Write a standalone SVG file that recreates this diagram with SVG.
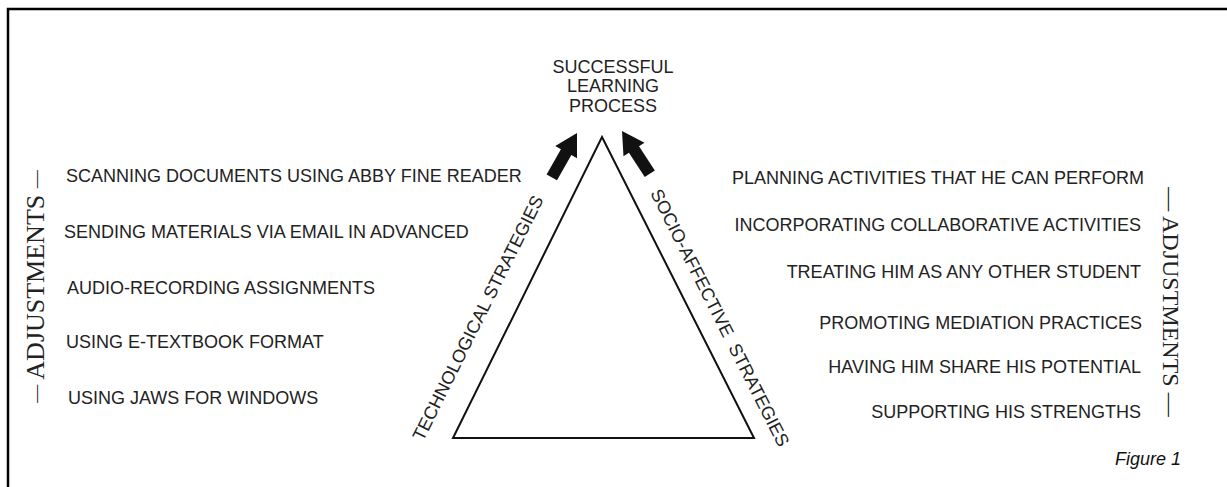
<svg xmlns="http://www.w3.org/2000/svg" width="1227" height="487" viewBox="0 0 1227 487">
<defs>
<style>
.t{font-family:"Liberation Sans",Arial,sans-serif;font-size:18px;fill:#222}
.s{font-family:"Liberation Serif","Times New Roman",serif;font-size:26px;fill:#222}
.e{text-anchor:end}
.m{text-anchor:middle}
.fig{font-family:"Liberation Sans",Arial,sans-serif;font-size:18px;font-style:italic;fill:#111;text-anchor:end}
.frame{stroke:#000;stroke-width:2.5;fill:none}
.tri{stroke:#111;stroke-width:2;fill:none;stroke-linejoin:miter}
.arr{fill:#111}
.d{font-size:18px}
</style>
<polygon id="arrow" points="0,0 12.5,22 6,22 6,51 -6,51 -6,22 -12.5,22"/>
</defs>
<rect width="1227" height="487" fill="#fff"/>
<path class="frame" d="M1227,9 H8 V487"/>
<g id="goal">
<text class="t m" x="613" y="72.5">SUCCESSFUL</text>
<text class="t m" x="613" y="92">LEARNING</text>
<text class="t m" x="613" y="112">PROCESS</text>
</g>
<g id="triangle">
<polygon class="tri" points="602,137 754,438 453,438"/>
<text class="t" transform="translate(423,442) rotate(-63.5)">TECHNOLOGICAL STRATEGIES</text>
<text class="t" style="white-space:pre" transform="translate(650,193) rotate(63.2)">SOCIO-AFFECTIVE  STRATEGIES</text>
</g>
<g id="connectors">
<use href="#arrow" class="arr" transform="translate(577,133) rotate(29.6)"/>
<use href="#arrow" class="arr" transform="translate(622,131) rotate(-33)"/>
</g>
<g id="left-adjustments">
<text class="s m" transform="translate(44,286.5) rotate(-90)"><tspan class="d" dy="-2">—</tspan><tspan dy="2"> ADJUSTMENTS </tspan><tspan class="d" dy="-2">—</tspan></text>
<text class="t" x="66" y="182">SCANNING DOCUMENTS USING ABBY FINE READER</text>
<text class="t" x="64" y="238">SENDING MATERIALS VIA EMAIL IN ADVANCED</text>
<text class="t" x="67" y="294">AUDIO-RECORDING ASSIGNMENTS</text>
<text class="t" x="66" y="348">USING E-TEXTBOOK FORMAT</text>
<text class="t" x="68" y="404">USING JAWS FOR WINDOWS</text>
</g>
<g id="right-adjustments">
<text class="s m" style="font-size:24px" transform="translate(1163,302) rotate(90)">— ADJUSTMENTS —</text>
<text class="t e" x="1144" y="184">PLANNING ACTIVITIES THAT HE CAN PERFORM</text>
<text class="t e" x="1141" y="231">INCORPORATING COLLABORATIVE ACTIVITIES</text>
<text class="t e" x="1141" y="278">TREATING HIM AS ANY OTHER STUDENT</text>
<text class="t e" x="1142" y="329">PROMOTING MEDIATION PRACTICES</text>
<text class="t e" x="1141" y="373">HAVING HIM SHARE HIS POTENTIAL</text>
<text class="t e" x="1141" y="418">SUPPORTING HIS STRENGTHS</text>
</g>
<text class="fig" x="1181" y="465">Figure 1</text>
</svg>
